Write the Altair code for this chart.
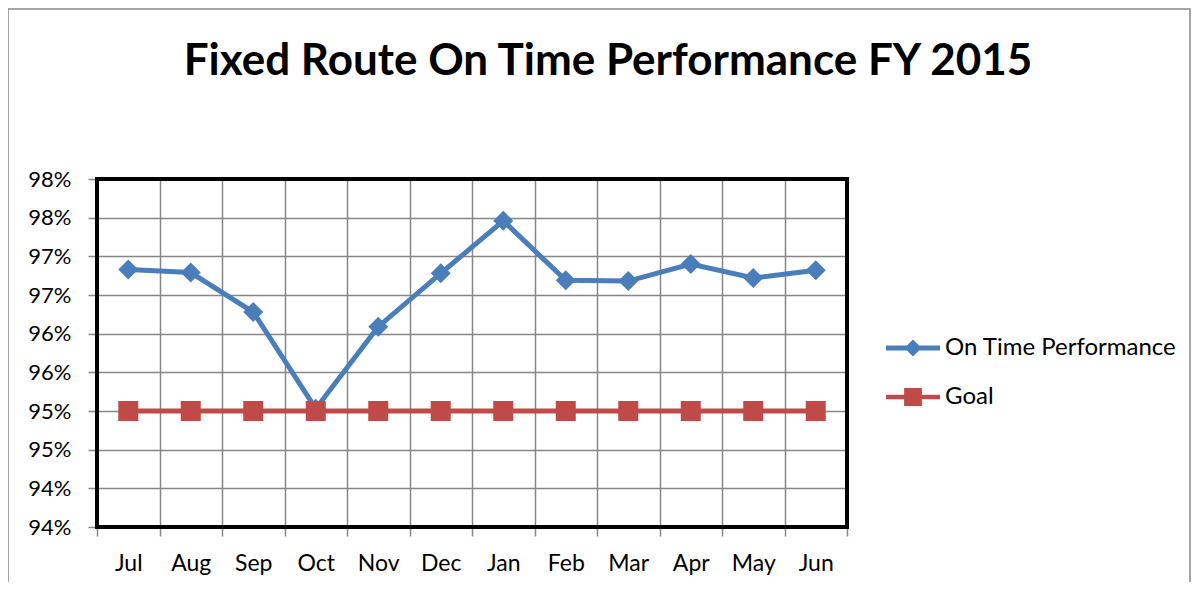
import altair as alt
import pandas as pd

months = ["Jul", "Aug", "Sep", "Oct", "Nov", "Dec", "Jan", "Feb", "Mar", "Apr", "May", "Jun"]
on_time = [96.83, 96.79, 96.28, 95.03, 96.09, 96.78, 97.46, 96.69, 96.68, 96.90, 96.72, 96.82]
goal = [95.0, 95.0, 95.0, 95.0, 95.0, 95.0, 95.0, 95.0, 95.0, 95.0, 95.0, 95.0]
series_names = ["On Time Performance", "Goal"]
series_colors = ["#4A7EBB", "#BE4B48"]
series_markers = ["diamond", "square"]
y_ticks = [93.5, 94.0, 94.5, 95.0, 95.5, 96.0, 96.5, 97.0, 97.5, 98.0]
title_text = "Fixed Route On Time Performance FY 2015"

# legend symbols: line with marker on it (unit box -1..1)
legend_paths = [
    "M-1,-0.09L-0.225,-0.09L0,-0.315L0.225,-0.09L1,-0.09L1,0.09L0.225,0.09L0,0.315L-0.225,0.09L-1,0.09Z",
    "M-1,-0.08L-0.33,-0.08L-0.33,-0.33L0.33,-0.33L0.33,-0.08L1,-0.08L1,0.08L0.33,0.08L0.33,0.33L-0.33,0.33L-0.33,0.08L-1,0.08Z",
]

rows = []
for s, vals in zip(series_names, [on_time, goal]):
    for m, v in zip(months, vals):
        rows.append({"month": m, "value": v, "series": s})
df = pd.DataFrame(rows)

FONT = "Lato"
GRID = "#878787"

x_enc = alt.X(
    "month:N",
    sort=months,
    bandPosition=0.5,
    scale=alt.Scale(type="band", paddingInner=0, paddingOuter=0),
    axis=alt.Axis(
        title=None,
        tickBand="extent",
        grid=True,
        gridColor=GRID,
        gridWidth=1.5,
        domainColor=GRID,
        domainWidth=1.5,
        tickColor=GRID,
        tickWidth=1.5,
        tickSize=9,
        labelFont=FONT,
        labelFontSize=23,
        labelColor="black",
        labelPadding=16,
        labelAngle=0,
    ),
)
y_enc = alt.Y(
    "value:Q",
    scale=alt.Scale(domain=[93.5, 98.0], nice=False, zero=False),
    axis=alt.Axis(
        title=None,
        values=y_ticks,
        labelExpr="round(datum.value) + '%'",
        grid=True,
        gridColor=GRID,
        gridWidth=1.5,
        domainColor=GRID,
        domainWidth=1.5,
        tickColor=GRID,
        tickWidth=1.5,
        tickSize=9,
        labelFont=FONT,
        labelFontSize=22,
        labelColor="black",
        labelPadding=17,
    ),
)

layers = []

# plot-area border drawn above the grid
border_layer = alt.Chart(pd.DataFrame({"b": [0]})).mark_rect(
    fill="transparent", stroke="black", strokeWidth=4
).encode(x=alt.value(0), x2=alt.value("width"), y=alt.value(0), y2=alt.value("height"))
layers.append(border_layer)

for s, c, mk in zip(series_names, series_colors, series_markers):
    base = alt.Chart(df).transform_filter(alt.datum.series == s)
    layers.append(base.mark_line(color=c, strokeWidth=5).encode(x=x_enc, y=y_enc))
    layers.append(
        base.mark_point(shape=mk, filled=True, size=400, color=c, opacity=1).encode(x=x_enc, y=y_enc)
    )

legend_props = dict(
    title=None,
    orient="none",
    legendX=789,
    legendY=142,
    symbolSize=2916,
    symbolStrokeWidth=0,
    symbolOpacity=1,
    labelFont=FONT,
    labelFontSize=24,
    labelColor="black",
    labelOffset=5,
    labelLimit=0,
    rowPadding=10,
)
legend_layer = alt.Chart(df).mark_point(filled=True, opacity=0).encode(
    x=x_enc,
    y=y_enc,
    color=alt.Color(
        "series:N",
        scale=alt.Scale(domain=series_names, range=series_colors),
        legend=alt.Legend(**legend_props),
    ),
    shape=alt.Shape(
        "series:N",
        scale=alt.Scale(domain=series_names, range=legend_paths),
        legend=alt.Legend(**legend_props),
    ),
)
layers.append(legend_layer)

title_layer = alt.Chart(pd.DataFrame({"t": [title_text]})).mark_text(
    font=FONT, fontWeight="bold", fontSize=44, align="center", baseline="alphabetic", color="black"
).encode(text="t:N", x=alt.value(511), y=alt.value(-104))
layers.append(title_layer)

frame_layer = alt.Chart(pd.DataFrame({"f": [0]})).mark_rect(
    fill="transparent", stroke="#898989", strokeWidth=1.5
).encode(x=alt.value(-89), x2=alt.value(1093), y=alt.value(-170), y2=alt.value(700))
layers.append(frame_layer)

chart = (
    alt.layer(*layers)
    .properties(
        width=750,
        height=348,
        autosize=alt.AutoSizeParams(type="none"),
        padding={"left": 89, "top": 171, "right": 347, "bottom": 55},
        background="white",
    )
    .configure_view(stroke=None)
)

chart.save("out.html", embed_options={"renderer": "svg", "actions": False})
